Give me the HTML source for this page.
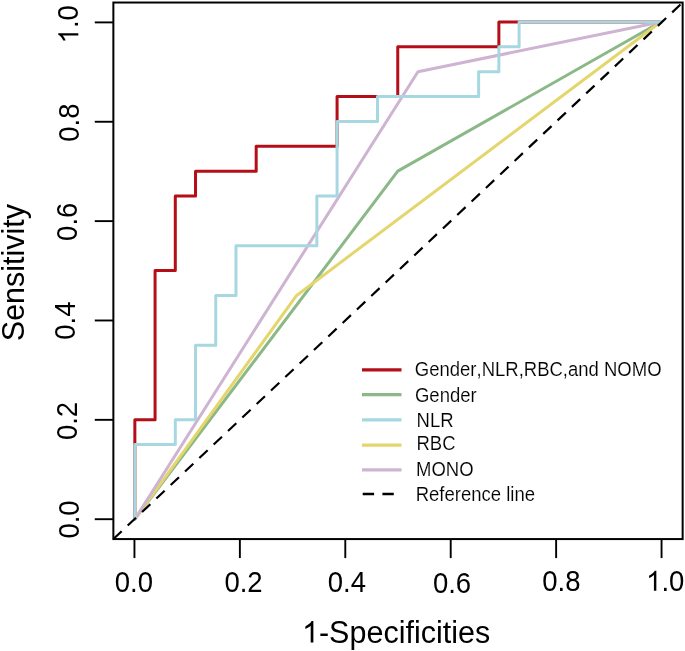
<!DOCTYPE html>
<html><head><meta charset="utf-8"><style>
html,body{margin:0;padding:0;background:#fff;}
body{width:685px;height:651px;overflow:hidden;}
svg{display:block;will-change:transform;filter:blur(0.4px);}
text{font-family:"Liberation Sans",sans-serif;fill:#000;font-kerning:none;white-space:pre;}
</style></head><body>
<svg width="685" height="651" viewBox="0 0 685 651">
<rect x="0" y="0" width="685" height="651" fill="#fff"/>
<polyline points="134.85,519.20 134.85,419.76 155.07,419.76 155.07,270.60 175.30,270.60 175.30,196.02 195.52,196.02 195.52,171.16 256.19,171.16 256.19,146.30 337.08,146.30 337.08,96.58 397.75,96.58 397.75,46.86 498.87,46.86 498.87,22.00 660.65,22.00" fill="none" stroke="#b40f18" stroke-width="3" stroke-linejoin="round" stroke-linecap="round"/>
<polyline points="134.85,519.20 397.75,171.16 660.65,22.00" fill="none" stroke="#8ab886" stroke-width="3" stroke-linejoin="round" stroke-linecap="round"/>
<polyline points="134.85,519.20 296.63,295.46 660.65,22.00" fill="none" stroke="#e4d66c" stroke-width="3" stroke-linejoin="round" stroke-linecap="round"/>
<polyline points="134.85,519.20 417.97,71.72 660.65,22.00" fill="none" stroke="#cfb3d2" stroke-width="3" stroke-linejoin="round" stroke-linecap="round"/>
<polyline points="134.85,519.20 134.85,444.62 175.30,444.62 175.30,419.76 195.52,419.76 195.52,345.18 215.74,345.18 215.74,295.46 235.97,295.46 235.97,245.74 316.86,245.74 316.86,196.02 337.08,196.02 337.08,121.44 377.53,121.44 377.53,96.58 478.64,96.58 478.64,71.72 498.87,71.72 498.87,46.86 519.09,46.86 519.09,22.00 660.65,22.00" fill="none" stroke="#a7d7e0" stroke-width="3" stroke-linejoin="round" stroke-linecap="round"/>
<line x1="113.37" y1="539.07" x2="682.63" y2="2.53" stroke="#000" stroke-width="2.2" stroke-dasharray="11.4 8.29"/>
<rect x="113.37" y="2.53" width="569.27" height="536.54" fill="none" stroke="#000" stroke-width="2.0"/>
<line x1="134.45" y1="539.07" x2="134.45" y2="558.07" stroke="#000" stroke-width="1.9"/>
<line x1="113.37" y1="519.20" x2="94.77" y2="519.20" stroke="#000" stroke-width="1.9"/>
<line x1="239.87" y1="539.07" x2="239.87" y2="558.07" stroke="#000" stroke-width="1.9"/>
<line x1="113.37" y1="419.84" x2="94.77" y2="419.84" stroke="#000" stroke-width="1.9"/>
<line x1="345.29" y1="539.07" x2="345.29" y2="558.07" stroke="#000" stroke-width="1.9"/>
<line x1="113.37" y1="320.48" x2="94.77" y2="320.48" stroke="#000" stroke-width="1.9"/>
<line x1="450.71" y1="539.07" x2="450.71" y2="558.07" stroke="#000" stroke-width="1.9"/>
<line x1="113.37" y1="221.12" x2="94.77" y2="221.12" stroke="#000" stroke-width="1.9"/>
<line x1="556.13" y1="539.07" x2="556.13" y2="558.07" stroke="#000" stroke-width="1.9"/>
<line x1="113.37" y1="121.76" x2="94.77" y2="121.76" stroke="#000" stroke-width="1.9"/>
<line x1="661.55" y1="539.07" x2="661.55" y2="558.07" stroke="#000" stroke-width="1.9"/>
<line x1="113.37" y1="22.40" x2="94.77" y2="22.40" stroke="#000" stroke-width="1.9"/>
<text x="0.00 15.29 22.93" y="0" font-size="27.5" transform="translate(114.70,592.40) scale(1.0,1.06)">0.0</text>
<text x="0.00 15.29 22.93" y="0" font-size="27.5" transform="translate(224.40,592.40) scale(1.0,1.06)">0.2</text>
<text x="0.00 15.29 22.93" y="0" font-size="27.5" transform="translate(327.70,592.40) scale(1.0,1.06)">0.4</text>
<text x="0.00 15.29 22.93" y="0" font-size="27.5" transform="translate(432.90,592.50) scale(1.0,1.06)">0.6</text>
<text x="0.00 15.29 22.93" y="0" font-size="27.5" transform="translate(542.30,590.70) scale(1.0,1.06)">0.8</text>
<path d="M763 0L583 0L583 1097.7Q518 1038.3 415 980.4Q312 922.5 223 891L223 1057.5Q375 1125.4 487 1221.1Q599 1316.8 646 1408.7L763 1408.7Z" transform="translate(646.10,590.70) scale(1.0,1.06) translate(0.00,0) scale(0.01343,-0.01343)" fill="#000"/>
<text x="15.29 22.93" y="0" font-size="27.5" transform="translate(646.10,590.70) scale(1.0,1.06)">.0</text>
<path d="M763 0L583 0L583 1097.7Q518 1038.3 415 980.4Q312 922.5 223 891L223 1057.5Q375 1125.4 487 1221.1Q599 1316.8 646 1408.7L763 1408.7Z" transform="translate(78.30,43.40) rotate(-90) scale(1.0,1.06) translate(0.00,0) scale(0.01343,-0.01343)" fill="#000"/>
<text x="15.29 22.93" y="0" font-size="27.5" transform="translate(78.30,43.40) rotate(-90) scale(1.0,1.06)">.0</text>
<text x="0.00 15.29 22.93" y="0" font-size="27.5" transform="translate(78.50,141.70) rotate(-90) scale(1.0,1.06)">0.8</text>
<text x="0.00 15.29 22.93" y="0" font-size="27.5" transform="translate(77.00,240.90) rotate(-90) scale(1.0,1.06)">0.6</text>
<text x="0.00 15.29 22.93" y="0" font-size="27.5" transform="translate(75.20,339.80) rotate(-90) scale(1.0,1.06)">0.4</text>
<text x="0.00 15.29 22.93" y="0" font-size="27.5" transform="translate(76.50,440.10) rotate(-90) scale(1.0,1.06)">0.2</text>
<text x="0.00 15.29 22.93" y="0" font-size="27.5" transform="translate(78.50,538.60) rotate(-90) scale(1.0,1.06)">0.0</text>
<path d="M763 0L583 0L583 1097.7Q518 1038.3 415 980.4Q312 922.5 223 891L223 1057.5Q375 1125.4 487 1221.1Q599 1316.8 646 1408.7L763 1408.7Z" transform="translate(302.00,642.60) scale(1.0,1.03) translate(0.00,0) scale(0.01489,-0.01489)" fill="#000"/>
<text x="16.96 27.12 47.46 64.43 81.39 96.64 103.41 111.89 118.66 133.91 140.69 149.16 155.94 172.90" y="0" font-size="30.5" transform="translate(302.00,642.60) scale(1.0,1.03)">-Specificities</text>
<text x="0.00 20.34 37.31 54.27 69.52 76.29 84.77 91.54 106.79 113.57 122.04" y="0" font-size="30.5" transform="translate(23.80,341.20) rotate(-90) scale(1.0,1.03)">Sensitivity</text>
<line x1="362" y1="369.9" x2="401.5" y2="369.9" stroke="#b40f18" stroke-width="3.2"/>
<text x="0.00 14.39 24.68 34.97 45.26 55.55 61.71 66.85 80.21 90.49 103.85 108.99 122.35 134.69 148.05 153.19 163.48 173.77 184.06 189.20 202.56 216.95 232.36" y="0" font-size="18.5" transform="translate(414.80,376.28) scale(1.0,1.06)" stroke="#fff" stroke-width="0.14" fill="#111">Gender,NLR,RBC,and NOMO</text>
<line x1="362" y1="394.7" x2="401.5" y2="394.7" stroke="#8ab886" stroke-width="3.2"/>
<text x="0.00 14.39 24.68 34.97 45.26 55.55" y="0" font-size="18.5" transform="translate(415.00,401.78) scale(1.0,1.06)" stroke="#fff" stroke-width="0.14" fill="#111">Gender</text>
<line x1="362" y1="419.8" x2="401.5" y2="419.8" stroke="#a7d7e0" stroke-width="3.2"/>
<text x="0.00 13.36 23.65" y="0" font-size="18.5" transform="translate(416.60,426.53) scale(1.0,1.06)" stroke="#fff" stroke-width="0.14" fill="#111">NLR</text>
<line x1="362" y1="445.1" x2="401.5" y2="445.1" stroke="#e4d66c" stroke-width="3.2"/>
<text x="0.00 13.36 25.70" y="0" font-size="18.5" transform="translate(416.50,449.93) scale(1.0,1.06)" stroke="#fff" stroke-width="0.14" fill="#111">RBC</text>
<line x1="362" y1="469.9" x2="401.5" y2="469.9" stroke="#cfb3d2" stroke-width="3.2"/>
<text x="0.00 15.41 29.80 43.16" y="0" font-size="18.5" transform="translate(416.00,475.98) scale(1.0,1.06)" stroke="#fff" stroke-width="0.14" fill="#111">MONO</text>
<line x1="362.7" y1="494.0" x2="401.5" y2="494.0" stroke="#000" stroke-width="2.6" stroke-dasharray="11.4 8.3"/>
<text x="0.00 13.36 23.65 28.79 39.08 45.24 55.53 65.82 75.07 85.35 90.49 94.60 98.71 109.00" y="0" font-size="18.5" transform="translate(415.70,500.78) scale(1.0,1.06)" stroke="#fff" stroke-width="0.14" fill="#111">Reference line</text>
</svg>
</body></html>
